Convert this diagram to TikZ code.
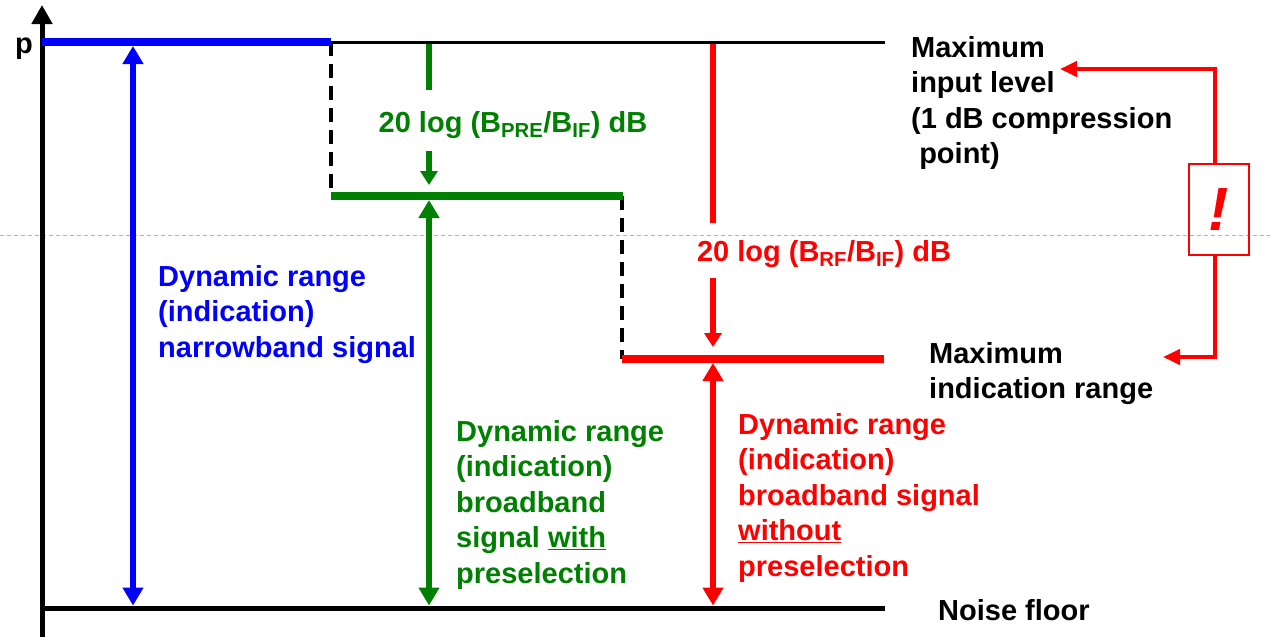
\documentclass[tikz,border=0pt]{standalone}
\usepackage{fontspec}
\setmainfont{Liberation Sans}
\usetikzlibrary{arrows.meta}
\definecolor{grn}{RGB}{0,128,0}
\tikzset{
  txt/.style={inner sep=0pt, align=left, font=\fontsize{29}{35.5}\selectfont\bfseries},
  blk/.style={txt, anchor=north west},
  lvl/.style={line width=8pt},
  stp/.style={line width=3.5pt, dash pattern=on 14pt off 8pt},
  rng/.style={line width=6pt, {Triangle[length=18pt,width=20pt]}-{Triangle[length=18pt,width=20pt]}},
  drop/.style={line width=5.5pt, -{Triangle[length=14pt,width=17pt]}},
  hint/.style={red, line width=4pt, -{Triangle[length=17pt,width=15pt]}},
}

\begin{document}
\begin{tikzpicture}[x=1pt,y=-1pt]
\useasboundingbox (0,0) rectangle (1270,637);

% levels and positions
\coordinate (top) at (42,42);
\coordinate (s1) at (331,42);
\coordinate (e1) at (885,42);
\coordinate (s2) at (331,196);
\coordinate (s3) at (623,196);
\coordinate (s4) at (622,359);
\coordinate (e4) at (884,359);
\coordinate (n0) at (42,608);
\coordinate (n1) at (885,608);
\coordinate (bx) at (133,0);
\coordinate (gx) at (429,0);
\coordinate (rx) at (713,0);

\draw[gray!60, line width=1pt, dash pattern=on 4pt off 3pt] (0,235) -- (1270,235);

% axis
\draw[line width=5pt, -{Triangle[length=19pt,width=20pt]}] (42,637) -- (42,5);
\node[txt] (p) at (24,49) {p};

\draw[stp] (s1) -- (s2);
\draw[stp] (s3 -| s4) -- (s4);
\draw[line width=3pt] (s1) -- (e1);
\draw[line width=5pt] (n0) -- (n1);
\draw[blue, lvl] (top) -- (s1);
\draw[grn, lvl] (s2) -- (s3);
\draw[red, lvl] (s4) -- (e4);

% dynamic ranges
\draw[blue, rng, shorten <=4pt, shorten >=2.5pt] (top -| bx) -- (n0 -| bx);
\draw[grn, rng, shorten <=4pt, shorten >=2.5pt] (s2 -| gx) -- (n0 -| gx);
\draw[red, rng, shorten <=4pt, shorten >=2.5pt] (s4 -| rx) -- (n0 -| rx);

\node[blk, text=blue] (bnote) at (158,265) {Dynamic range\\(indication)\\narrowband signal};
\node[blk, text=grn] (gnote) at (456,420) {Dynamic range\\(indication)\\broadband\\signal \underline{with}\\preselection};
\node[blk, text=red] (rnote) at (738,413) {Dynamic range\\(indication)\\broadband signal\\\underline{without}\\preselection};
\node[blk] (maxin) at (911,36) {Maximum\\input level\\(1 dB compression\\~point)};
\node[blk] (maxind) at (929,342) {Maximum\\indication range};
\node[txt, anchor=west] (noise) at (938,610) {Noise floor};

% losses
\node[txt, text=grn] (gdb) at (513,125) {20 log (B\textsubscript{PRE}/B\textsubscript{IF}) dB};
\node[txt, text=red] (rdb) at (824,254) {20 log (B\textsubscript{RF}/B\textsubscript{IF}) dB};
\draw[grn, line width=5.5pt, shorten <=2pt, shorten >=21pt] (e1 -| gx) -- (gdb.north -| gx);
\draw[grn, drop, shorten <=12pt, shorten >=11pt] (gdb.south -| gx) -- (s2 -| gx);
\draw[red, line width=5.5pt, shorten <=2pt, shorten >=17pt] (e1 -| rx) -- (rdb.north -| rx);
\draw[red, drop, shorten <=10pt, shorten >=12pt] (rdb.south -| rx) -- (s4 -| rx);

% warning
\node[draw=red, line width=2.5pt, minimum width=60pt, minimum height=91pt, inner sep=0pt, text=red,
  font=\fontsize{61}{61}\selectfont\bfseries\itshape] (warn) at (1219,209.5) {!};
\coordinate (wx) at (1215,0);
\coordinate (mil) at (1060,69);
\coordinate (mir) at (1163,357);
\draw[hint] (warn.north -| wx) |- (mil);
\draw[hint] (warn.south -| wx) |- (mir);
\end{tikzpicture}
\end{document}
